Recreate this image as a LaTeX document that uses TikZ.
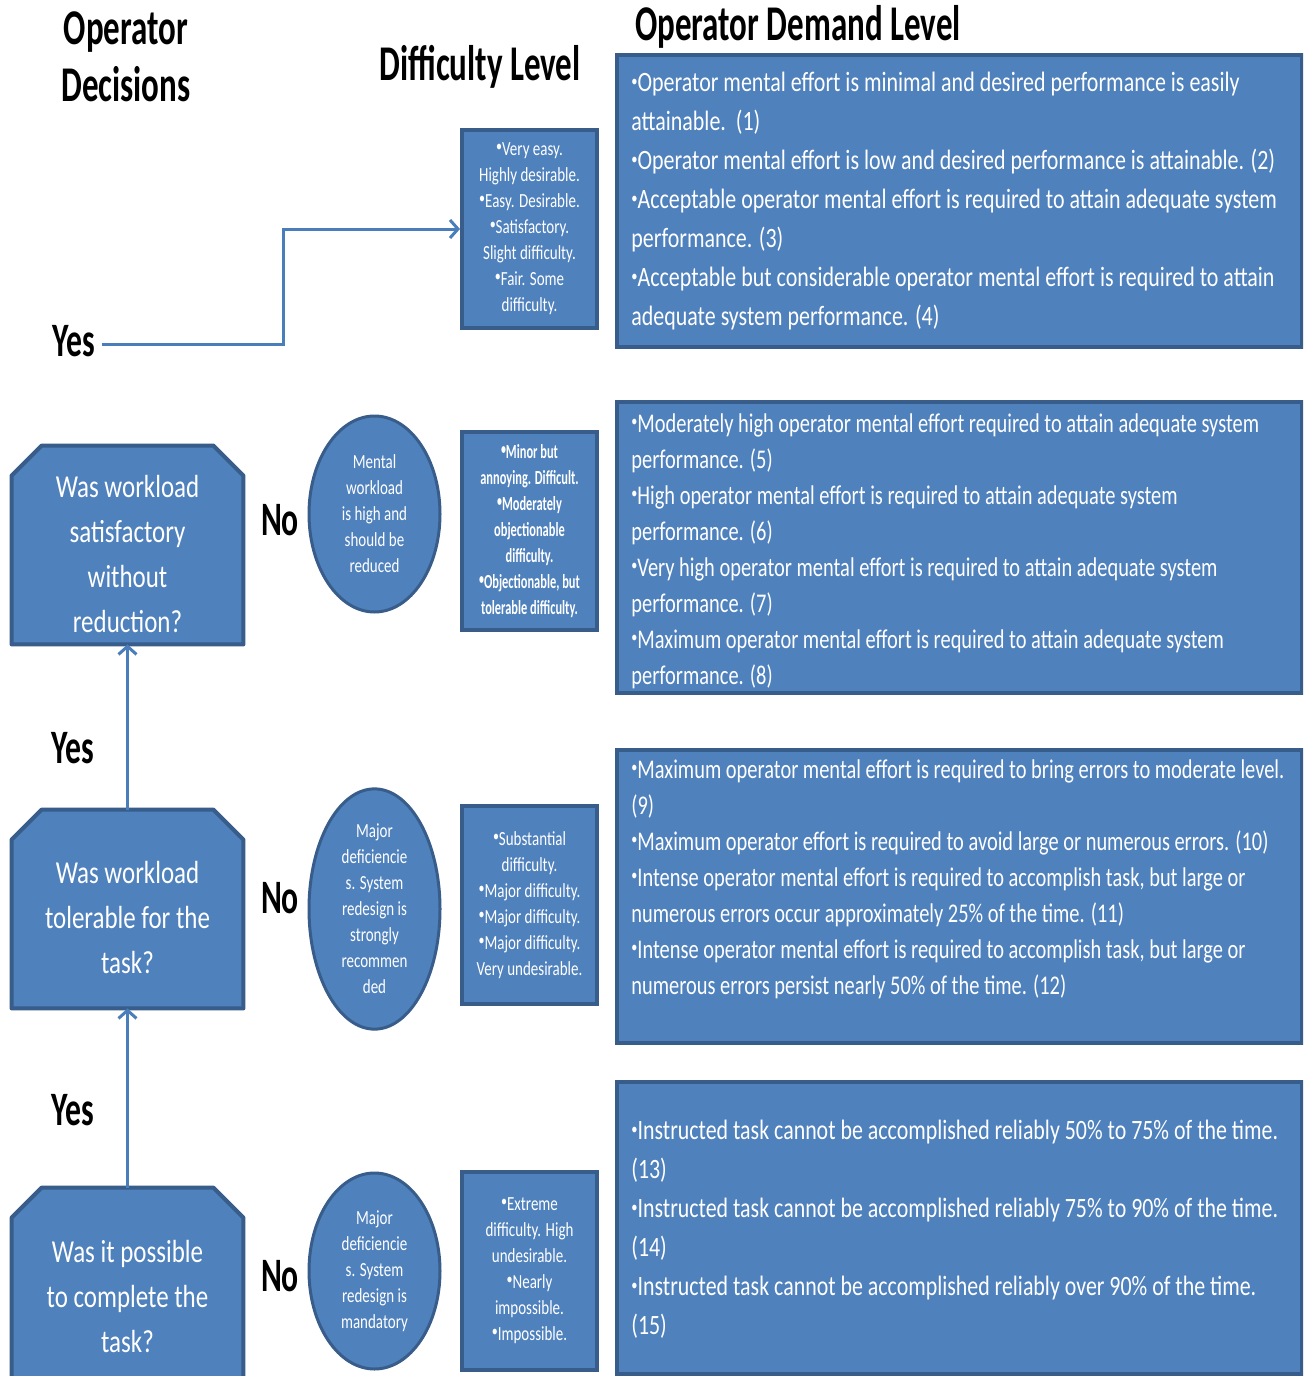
\documentclass[tikz,border=0pt]{standalone}
\usepackage{fontspec}
\setmainfont{Carlito}
% condensed cuts of Carlito for the different text blocks
\newfontfamily\ttlfont[FakeStretch=0.66]{Carlito}
\newfontfamily\qfont[FakeStretch=0.78]{Carlito}
\newfontfamily\smallfont[FakeStretch=0.75]{Carlito}
\newfontfamily\tinyfont[FakeStretch=0.62]{Carlito}
\newfontfamily\demA[FakeStretch=0.784]{Carlito}
\newfontfamily\demB[FakeStretch=0.756]{Carlito}
\newfontfamily\demD[FakeStretch=0.782]{Carlito}
\usetikzlibrary{arrows.meta,calc,shapes.geometric}

\definecolor{boxblue}{HTML}{4F81BD}
\definecolor{boxedge}{HTML}{385D8A}
\definecolor{linkblue}{HTML}{4A7EBB}

% small raised list bullet
\newcommand\bul{\raisebox{0.42ex}{\fontsize{8}{8}\selectfont\textbullet}}

\tikzset{
  heading/.style={font=\ttlfont\bfseries\fontsize{25}{28.5}\selectfont, align=center, inner sep=0},
  answer/.style={font=\ttlfont\bfseries\fontsize{24}{26}\selectfont, inner sep=0},
  rbox/.style={draw=boxedge, fill=boxblue, line width=2pt, minimum width=342.5pt, inner sep=0},
  rtext/.style={anchor=north west, inner sep=0, align=left, text=white},
  dbox/.style={draw=boxedge, fill=boxblue, line width=2pt, minimum width=67.5pt,
    minimum height=99pt, inner sep=0, align=center, text=white,
    font=\smallfont\fontsize{10}{13}\selectfont},
  oval/.style={ellipse, draw=boxedge, fill=boxblue, line width=1.5pt, minimum width=65.5pt,
    minimum height=98pt, inner sep=0, align=center, text=white,
    font=\smallfont\fontsize{10}{13}\selectfont},
  qbox/.style={minimum width=115.5pt, inner sep=0},
  qtext/.style={inner sep=0, align=center, text=white, font=\qfont\fontsize{16}{22.5}\selectfont},
  link/.style={draw=linkblue, line width=1.5pt, -{Straight Barb[length=4pt,width=9pt,line width=1.5pt]}}
}

% decision box outline with the two upper corners cut off
\newcommand\qoutline[1]{%
  \draw[draw=boxedge, fill=boxblue, line width=2pt, line join=round]
    (#1.south west) -- ($(#1.north west)+(0,30)$) -- ($(#1.north west)+(30,0)$)
    -- ($(#1.north east)+(-30,0)$) -- ($(#1.north east)+(0,30)$) -- (#1.south east) -- cycle;}

\begin{document}
\begin{tikzpicture}[x=0.5pt,y=-0.5pt]
\useasboundingbox (0,0) rectangle (1303,1376);
\fill[white] (0,0) rectangle (1303,1376);
\clip (0,0) rectangle (1303,1376);

% column headings
\node[heading] (hdec) at (126,57) {Operator\\Decisions};
\node[heading] (hdiff) at (480,67) {Difficulty Level};
\node[heading] (hdem) at (798,27) {Operator Demand Level};

% operator demand level boxes
\node[rbox, minimum height=146pt] (r1) at (959.5,201) {};
\node[rtext, font=\demA\fontsize{14}{19.5}\selectfont] (t1) at (631,72) {%
\bul Operator mental effort is minimal and desired performance is easily\\
attainable.\ \ (1)\\
\bul Operator mental effort is low and desired performance is attainable. (2)\\
\bul Acceptable operator mental effort is required to attain adequate system\\
performance. (3)\\
\bul Acceptable but considerable operator mental effort is required to attain\\
adequate system performance. (4)};

\node[rbox, minimum height=145.5pt] (r2) at (959.5,547.5) {};
\node[rtext, font=\demB\fontsize{13.5}{18}\selectfont] (t2) at (631,413) {%
\bul Moderately high operator mental effort required to attain adequate system\\
performance. (5)\\
\bul High operator mental effort is required to attain adequate system\\
performance. (6)\\
\bul Very high operator mental effort is required to attain adequate system\\
performance. (7)\\
\bul Maximum operator mental effort is required to attain adequate system\\
performance. (8)};

\node[rbox, minimum height=146.5pt] (r3) at (959.5,896.5) {};
\node[rtext, font=\demB\fontsize{13.5}{18}\selectfont] (t3) at (631,759) {%
\bul Maximum operator mental effort is required to bring errors to moderate level.\\
(9)\\
\bul Maximum operator effort is required to avoid large or numerous errors. (10)\\
\bul Intense operator mental effort is required to accomplish task, but large or\\
numerous errors occur approximately 25\% of the time. (11)\\
\bul Intense operator mental effort is required to accomplish task, but large or\\
numerous errors persist nearly 50\% of the time. (12)};

\node[rbox, minimum height=146pt] (r4) at (959.5,1228) {};
\node[rtext, font=\demD\fontsize{14}{19.5}\selectfont] (t4) at (631,1120) {%
\bul Instructed task cannot be accomplished reliably 50\% to 75\% of the time.\\
(13)\\
\bul Instructed task cannot be accomplished reliably 75\% to 90\% of the time.\\
(14)\\
\bul Instructed task cannot be accomplished reliably over 90\% of the time.\\
(15)};

% difficulty level boxes
\node[dbox] (d1) at (529.5,229) {\bul Very easy.\\Highly desirable.\\\bul Easy. Desirable.\\\bul Satisfactory.\\Slight difficulty.\\\bul Fair. Some\\difficulty.};
\node[dbox, font=\tinyfont\bfseries\fontsize{10}{13}\selectfont] (d2) at (529.5,531) {\bul Minor but\\annoying. Difficult.\\\bul Moderately\\objectionable\\difficulty.\\\bul Objectionable, but\\tolerable difficulty.};
\node[dbox] (d3) at (529.5,905) {\bul Substantial\\difficulty.\\\bul Major difficulty.\\\bul Major difficulty.\\\bul Major difficulty.\\Very undesirable.};
\node[dbox] (d4) at (529.5,1271) {\bul Extreme\\difficulty. High\\undesirable.\\\bul Nearly\\impossible.\\\bul Impossible.};

% consequence ovals
\node[oval] (e1) at (374.5,514) {Mental\\workload\\is high and\\should be\\reduced};
\node[oval] (e2) at (374.5,909) {Major\\deficiencie\\s. System\\redesign is\\strongly\\recommen\\ded};
\node[oval] (e3) at (374.5,1271) {Major\\deficiencie\\s. System\\redesign is\\mandatory};

% decision questions: chamfered outline, then the question text
\node[qbox, minimum height=99pt] (q1) at (127.5,545) {};
\qoutline{q1}
\node[qtext] (q1t) at (127.5,554) {Was workload\\satisfactory\\without\\reduction?};
\node[qbox, minimum height=99pt] (q2) at (127.5,909) {};
\qoutline{q2}
\node[qtext] (q2t) at (127.5,917) {Was workload\\tolerable for the\\task?};
\node[qbox, minimum height=108pt] (q3) at (127.5,1296) {};
\qoutline{q3}
\node[qtext] (q3t) at (127.5,1296) {Was it possible\\to complete the\\task?};

% answers
\node[answer] (y1) at (74,341) {Yes};
\node[answer] (y2) at (73,748) {Yes};
\node[answer] (y3) at (73,1110) {Yes};
\node[answer] (n1) at (280,520) {No};
\node[answer] (n2) at (280,898) {No};
\node[answer] (n3) at (280,1276) {No};

% connectors
\coordinate (bend) at (283,229);
\draw[link] ($(y1.east)+(6,3)$) -| (bend) -- (d1.west);
\draw[link] (q2.north) -- (q1.south);
\draw[link] (q3.north) -- (q2.south);
\end{tikzpicture}
\end{document}
